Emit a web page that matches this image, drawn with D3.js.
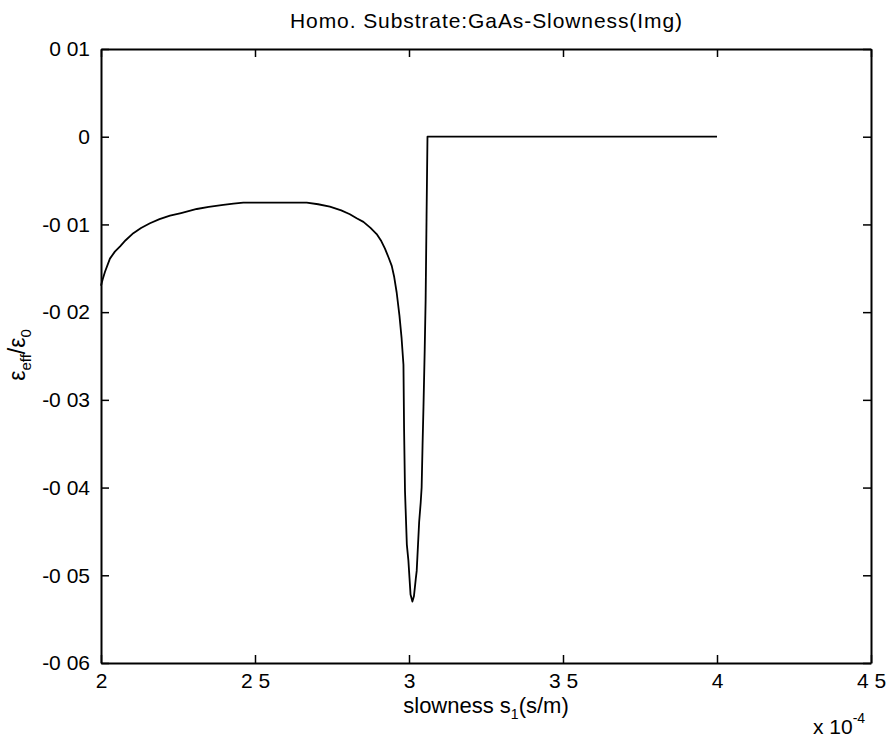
<!DOCTYPE html>
<html><head><meta charset="utf-8">
<script src="https://cdn.jsdelivr.net/npm/d3@7/dist/d3.min.js"></script>
<style>
body{margin:0;background:#fff}
text{font-family:"Liberation Sans",Arial,Helvetica,sans-serif;fill:#000}
</style>
</head><body>
<svg id="chart" width="891" height="742"></svg>
<script>
// slowness s1 in units of 1e-4 s/m
const slowness = [2.000, 2.002, 2.006, 2.013, 2.029, 2.045, 2.062, 2.080, 2.105, 2.130, 2.159, 2.190, 2.224, 2.260, 2.311, 2.350, 2.397, 2.430, 2.462, 2.550,
  2.668, 2.705, 2.743, 2.780, 2.808, 2.830, 2.852, 2.875, 2.895, 2.910, 2.922, 2.934, 2.944, 2.952, 2.960, 2.969, 2.976, 2.982, 2.984, 2.987, 2.993,
  2.998, 3.005, 3.011, 3.016, 3.022, 3.025, 3.033, 3.038, 3.041, 3.044, 3.047, 3.051, 3.054, 3.057,
  3.060, 3.100, 3.500, 4.000];
// eps_eff / eps_0 (imaginary part)
const epsRatio = [-0.0170, -0.0167, -0.0162, -0.0154, -0.0139, -0.0131, -0.0125, -0.0118, -0.0110, -0.0104, -0.00987, -0.0094, -0.0090, -0.0087, -0.00824, -0.0080, -0.00778, -0.00762, -0.00751, -0.00751,
  -0.00751, -0.00770, -0.00797, -0.0084, -0.00884, -0.0093, -0.00971, -0.0104, -0.0111, -0.0119, -0.01276, -0.0138, -0.01472, -0.0160, -0.01776, -0.0204, -0.0230, -0.0260, -0.0333, -0.0404, -0.0465,
  -0.0483, -0.0522, -0.0530, -0.0524, -0.0504, -0.0495, -0.0439, -0.0417, -0.0400, -0.0352, -0.0308, -0.0243, -0.0186, -0.0091,
  0, 0, 0, 0];

const xTicks = [2, 2.5, 3, 3.5, 4, 4.5];
const xTickLabels = ["2", "2 5", "3", "3 5", "4", "4 5"];
const yTicks = [0.01, 0, -0.01, -0.02, -0.03, -0.04, -0.05, -0.06];
const yTickLabels = ["0 01", "0", "-0 01", "-0 02", "-0 03", "-0 04", "-0 05", "-0 06"];
const titleText = "Homo. Substrate:GaAs-Slowness(Img)";

const svg = d3.select("#chart");
const L = 101, R = 871, T = 49, B = 663;
const x = d3.scaleLinear().domain([2, 4.5]).range([L, R]);
const y = d3.scaleLinear().domain([-0.06, 0.01]).range([B, T]);

const styleAxis = g => {
  g.select(".domain").attr("stroke", "#000").attr("stroke-width", 2);
  g.selectAll(".tick line").attr("stroke", "#000").attr("stroke-width", 1.5);
  g.selectAll(".tick text").attr("font-size", 21).attr("font-family", '"Liberation Sans",Arial,sans-serif').attr("fill", "#000");
};

svg.append("g").attr("transform", `translate(0,${B})`)
  .call(d3.axisBottom(x).tickValues(xTicks).tickFormat((d, i) => xTickLabels[i]).tickSizeInner(-8).tickSizeOuter(0).tickPadding(10))
  .call(styleAxis);
svg.append("g").attr("transform", `translate(0,${T})`)
  .call(d3.axisTop(x).tickValues(xTicks).tickFormat("").tickSizeInner(-8).tickSizeOuter(0))
  .call(styleAxis);
svg.append("g").attr("transform", `translate(${L},0)`)
  .call(d3.axisLeft(y).tickValues(yTicks).tickFormat((d, i) => yTickLabels[i]).tickSizeInner(-8).tickSizeOuter(0).tickPadding(11))
  .call(styleAxis);
svg.append("g").attr("transform", `translate(${R},0)`)
  .call(d3.axisRight(y).tickValues(yTicks).tickFormat("").tickSizeInner(-8).tickSizeOuter(0))
  .call(styleAxis);

const pts = slowness.map((s, i) => [s, epsRatio[i]]);
svg.append("path").datum(pts)
  .attr("fill", "none").attr("stroke", "#000").attr("stroke-width", 1.8).attr("stroke-linejoin", "round")
  .attr("d", d3.line().x(d => x(d[0])).y(d => y(d[1])));

// title
svg.append("text").attr("x", (L + R) / 2).attr("y", 28).attr("text-anchor", "middle")
  .attr("font-size", 21).attr("textLength", 392).attr("lengthAdjust", "spacing").text(titleText);

// x label
const xl = svg.append("text").attr("x", (L + R) / 2).attr("y", 713).attr("text-anchor", "middle").attr("font-size", 22);
xl.append("tspan").text("slowness s");
xl.append("tspan").attr("dy", 6).attr("font-size", 14).text("1");
xl.append("tspan").attr("dy", -6).text("(s/m)");

// exponent
const ex = svg.append("text").attr("x", 813).attr("y", 734).attr("font-size", 21);
ex.append("tspan").text("x 10");
ex.append("tspan").attr("dy", -11).attr("font-size", 14).text("-4");

// y label
const yl = svg.append("text").attr("transform", "translate(25,355) rotate(-90)").attr("text-anchor", "middle").attr("font-size", 23);
yl.append("tspan").text("ε");
yl.append("tspan").attr("dy", 6).attr("font-size", 15).text("eff");
yl.append("tspan").attr("dy", -6).text("/ε");
yl.append("tspan").attr("dy", 6).attr("font-size", 15).text("0");
</script>
</body></html>
